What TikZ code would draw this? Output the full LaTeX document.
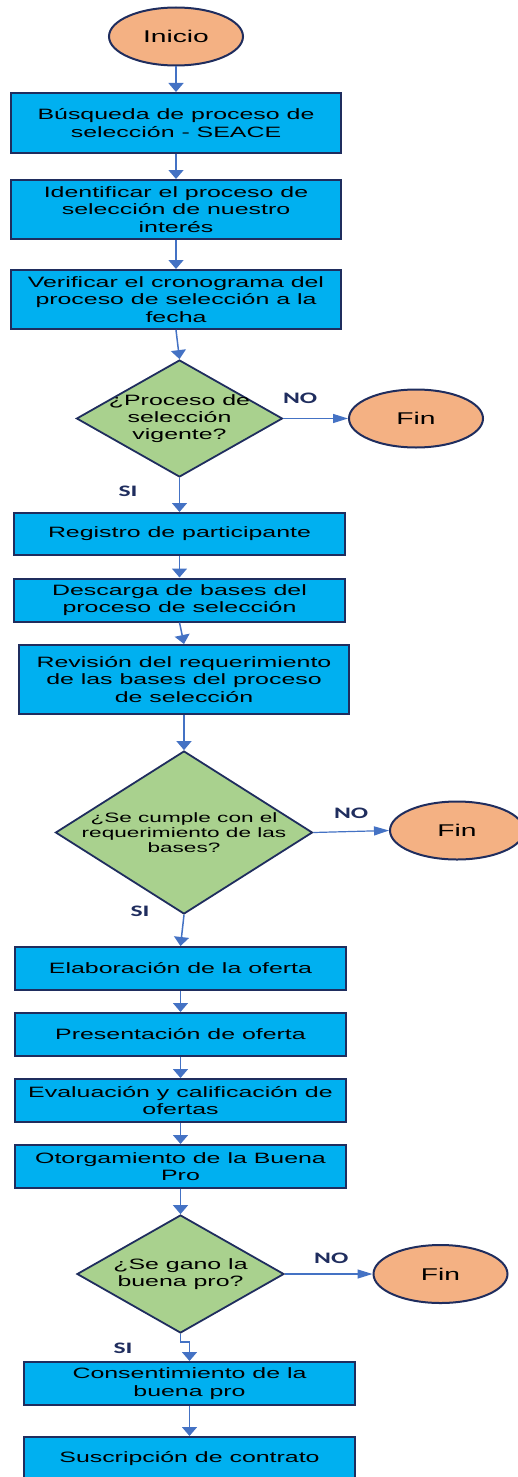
\documentclass[tikz,border=0pt]{standalone}
\usepackage{fontspec}
\usetikzlibrary{shapes.geometric,arrows.meta}
\newfontfamily\cajafont[FakeStretch=1.66]{Liberation Sans}
\newfontfamily\sifont[FakeStretch=1.6]{Carlito}
\definecolor{azulborde}{HTML}{1F2D5E}
\definecolor{celeste}{HTML}{00B0F0}
\definecolor{salmon}{HTML}{F4B183}
\definecolor{verde}{HTML}{A9D18E}
\definecolor{azulflecha}{HTML}{4472C4}

\begin{document}
\begin{tikzpicture}[x=1pt,y=-1pt,
  paso/.style={rectangle,draw=azulborde,line width=2pt,fill=celeste,minimum width=330pt,inner sep=0pt,align=center,font={\cajafont\fontsize{15}{17.3}\selectfont}},
  extremo/.style={ellipse,draw=azulborde,line width=2pt,fill=salmon,minimum width=134pt,minimum height=58pt,inner sep=0pt,font={\cajafont\fontsize{17}{20}\selectfont}},
  decision/.style={diamond,draw=azulborde,line width=1.8pt,fill=verde,inner sep=0pt},
  pregunta/.style={align=center,inner sep=0pt,font={\cajafont\fontsize{15}{17.3}\selectfont}},
  etiqueta/.style={text=azulborde,inner sep=0pt,font={\sifont\bfseries\fontsize{16}{18}\selectfont}},
  flecha/.style={azulflecha,line width=1.5pt,-{Triangle[length=9pt,width=15pt]}},
  flechah/.style={azulflecha,line width=1.2pt,-{Triangle[length=15pt,width=9pt]}}]
\useasboundingbox (0,0) rectangle (518,1477);

% Inicio y primeros pasos
\node[extremo] (inicio) at (176,36.5) {Inicio};
\node[paso,minimum height=60pt] (busqueda) at (176,123) {Búsqueda de proceso de\\selección - SEACE};
\node[paso,minimum height=59pt] (identificar) at (176,209.5) {Identificar el proceso de\\selección de nuestro\\interés};
\node[paso,minimum height=59pt] (verificar) at (176,299.5) {Verificar el cronograma del\\proceso de selección a la\\fecha};

% Primera decision
\node[decision,minimum width=206pt,minimum height=117pt,
  label={[pregunta]center:¿Proceso de\\selección\\vigente?}] (vigente) at (179.5,418.5) {};
\node[extremo] (fin1) at (416,418.5) {Fin};

% Participacion
\node[paso,minimum width=331pt,minimum height=42pt] (registro) at (179.5,534) {Registro de participante};
\node[paso,minimum width=331pt,minimum height=43pt] (descarga) at (179.5,600) {Descarga de bases del\\proceso de selección};
\node[paso,minimum height=69pt] (revision) at (184,679.5) {Revisión del requerimiento\\de las bases del proceso\\de selección};

% Segunda decision
\node[decision,minimum width=257pt,minimum height=163pt,
  label={[pregunta,font={\cajafont\fontsize{13.6}{15.3}\selectfont}]center:¿Se cumple con el\\requerimiento de las\\bases?}] (cumple) at (184,832.5) {};
\node[extremo] (fin2) at (457,830.5) {Fin};

% Oferta
\node[paso,minimum width=331pt,minimum height=43pt] (elaboracion) at (180.5,968.5) {Elaboración de la oferta};
\node[paso,minimum width=331pt,minimum height=43pt] (presentacion) at (180.5,1034.5) {Presentación de oferta};
\node[paso,minimum width=331pt,minimum height=43pt] (evaluacion) at (180.5,1100.5) {Evaluación y calificación de\\ofertas};
\node[paso,minimum width=331pt,minimum height=43pt] (otorgamiento) at (180.5,1166.5) {Otorgamiento de la Buena\\Pro};

% Tercera decision
\node[decision,minimum width=207pt,minimum height=118pt,
  label={[pregunta]center:¿Se gano la\\buena pro?}] (gano) at (180.5,1274) {};
\node[extremo] (fin3) at (440.5,1274) {Fin};

% Cierre
\node[paso,minimum width=331pt,minimum height=43pt] (consentimiento) at (189.5,1383.5) {Consentimiento de la\\buena pro};
\node[paso,minimum width=331pt,minimum height=43pt] (suscripcion) at (189.5,1458.5) {Suscripción de contrato};

% Etiquetas SI
\node[etiqueta] (si1) at (128,491.5) {SI};
\node[etiqueta] (si2) at (140,911.5) {SI};
\node[etiqueta] (si3) at (123,1348) {SI};

% Conectores
\draw[flecha] (inicio) -- (busqueda);
\draw[flecha] (busqueda) -- (identificar);
\draw[flecha] (identificar) -- (verificar);
\draw[flecha] (verificar.south) -- (vigente.north);
\draw[flecha] (vigente.south) -- (registro.north);
\draw[flechah] (vigente.east) -- node[etiqueta,pos=0.26,yshift=20.5pt] {NO} (fin1.west);
\draw[flecha] (registro) -- (descarga);
\draw[flecha] (descarga.south) -- (revision.north);
\draw[flecha] (revision.south) -- (cumple.north);
\draw[flechah] (cumple.east) -- node[etiqueta,pos=0.5,yshift=18pt] {NO} (fin2.west);
\draw[flecha] (cumple.south) -- (elaboracion.north);
\draw[flecha] (elaboracion) -- (presentacion);
\draw[flecha] (presentacion) -- (evaluacion);
\draw[flecha] (evaluacion) -- (otorgamiento);
\draw[flecha] (otorgamiento.south) -- (gano.north);
\draw[flechah] (gano.east) -- node[etiqueta,pos=0.53,yshift=16pt] {NO} (fin3.west);
\draw[flecha] (gano.south) -- ++(0,8) -| (consentimiento.north);
\draw[flecha] (consentimiento) -- (suscripcion);

\end{tikzpicture}
\end{document}
